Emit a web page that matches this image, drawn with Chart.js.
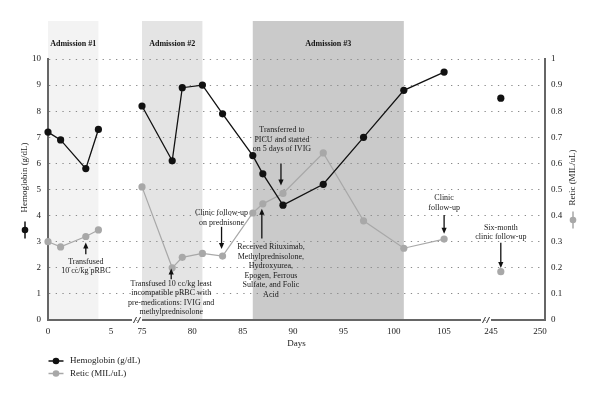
<!DOCTYPE html>
<html>
<head>
<meta charset="utf-8">
<script src="https://cdn.jsdelivr.net/npm/chart.js@4.4.1/dist/chart.umd.min.js"></script>
<style>
  body { margin: 0; background: #fff; }
  #wrap { width: 600px; height: 399px; }
</style>
</head>
<body>
<div id="wrap"><canvas id="grafico"></canvas></div>
<script>
var hbDays = [0, 1, 3, 4, 75, 78, 79, 81, 83, 86, 87, 89, 93, 97, 101, 105, 246];
var hbValues = [7.2, 6.9, 5.8, 7.3, 8.2, 6.1, 8.9, 9.0, 7.9, 6.3, 5.6, 4.4, 5.2, 7.0, 8.8, 9.5, 8.5];
var reticDays = [0, 1, 3, 4, 75, 78, 79, 81, 83, 86, 87, 89, 93, 97, 101, 105, 246];
var reticValues = [0.30, 0.28, 0.32, 0.345, 0.51, 0.20, 0.24, 0.255, 0.245, 0.41, 0.445, 0.485, 0.64, 0.38, 0.275, 0.31, 0.185];
var tickDays = [0, 5, 75, 80, 85, 90, 95, 100, 105, 245, 250];
var admissionNames = ['Admission #1', 'Admission #2', 'Admission #3'];
var admissionStart = [0, 75, 86];
var admissionEnd = [4, 81, 101];

var SERIF = "'Liberation Serif', 'DejaVu Serif', serif";
var TINTA = '#1a1a1a';

// broken x axis: three pieces of the day line laid side by side
var piezas = [
    {desde: 0, inicio: 0, escala: 12.6},
    {desde: 75, inicio: 94, escala: 10.07},
    {desde: 245, inicio: 443, escala: 9.8}
];
function pieza(d) {
    if (d < 40) return 0;
    if (d < 200) return 1;
    return 2;
}
function pos(d) {
    var p = piezas[pieza(d)];
    return p.inicio + (d - p.desde) * p.escala;
}

function puntos(dias, valores) {
    var out = [];
    for (var i = 0; i < dias.length; i++) {
        out.push({x: pos(dias[i]), y: valores[i]});
        if (i < dias.length - 1 && pieza(dias[i]) != pieza(dias[i + 1])) {
            out.push({x: (pos(dias[i]) + pos(dias[i + 1])) / 2, y: null});
        }
    }
    return out;
}

// notes: x in days, y in hemoglobin units
var notas = [
    {texto: ['Transfused', '10 cc/kg pRBC'], dia: 3, y: 2.23, flechaDia: 3, de: 2.52, a: 2.97},
    {texto: ['Transfused 10 cc/kg least', 'incompatible pRBC with', 'pre-medications: IVIG and', 'methylprednisolone'], dia: 77.9, y: 1.40, flechaDia: 77.9, de: 1.56, a: 1.97},
    {texto: ['Clinic follow-up', 'on prednisone'], dia: 82.9, y: 4.09, flechaDia: 82.9, de: 3.57, a: 2.72},
    {texto: ['Received Rituximab,', 'Methylprednisolone,', 'Hydroxyurea,', 'Epogen, Ferrous', 'Sulfate, and Folic', 'Acid'], dia: 87.8, y: 2.80, flechaDia: 86.9, de: 3.12, a: 4.26},
    {texto: ['Transferred to', 'PICU and started', 'on 5 days of IVIG'], dia: 88.9, y: 7.28, flechaDia: 88.8, de: 6.0, a: 5.15},
    {texto: ['Clinic', 'follow-up'], dia: 105, y: 4.66, flechaDia: 105, de: 4.02, a: 3.30},
    {texto: ['Six-month', 'clinic follow-up'], dia: 246, y: 3.53, flechaDia: 246, de: 2.96, a: 1.99}
];

function flecha(ctx, x, y1, y2) {
    var dir = y2 > y1 ? 1 : -1;
    ctx.strokeStyle = '#111';
    ctx.fillStyle = '#111';
    ctx.lineWidth = 1.3;
    ctx.beginPath();
    ctx.moveTo(x, y1);
    ctx.lineTo(x, y2 - dir * 4);
    ctx.stroke();
    ctx.beginPath();
    ctx.moveTo(x, y2);
    ctx.lineTo(x - 2.6, y2 - dir * 6);
    ctx.lineTo(x + 2.6, y2 - dir * 6);
    ctx.closePath();
    ctx.fill();
}

function marcador(ctx, x, y, color, vertical) {
    ctx.strokeStyle = color;
    ctx.fillStyle = color;
    ctx.lineWidth = 1.5;
    ctx.beginPath();
    if (vertical) {
        ctx.moveTo(x, y - 8.5);
        ctx.lineTo(x, y + 8.5);
    } else {
        ctx.moveTo(x - 7.5, y);
        ctx.lineTo(x + 7.5, y);
    }
    ctx.stroke();
    ctx.beginPath();
    ctx.arc(x, y, 3.3, 0, Math.PI * 2);
    ctx.fill();
}

var extras = {
    id: 'extras',
    beforeDraw: function(chart) {
        var ctx = chart.ctx;
        var xs = chart.scales.x;
        var area = chart.chartArea;
        var grises = ['#f3f3f3', '#e4e4e4', '#cacaca'];
        ctx.save();
        ctx.fillStyle = '#fff';
        ctx.fillRect(0, 0, chart.width, chart.height);
        for (var i = 0; i < admissionNames.length; i++) {
            var x1 = xs.getPixelForValue(pos(admissionStart[i]));
            var x2 = xs.getPixelForValue(pos(admissionEnd[i]));
            ctx.fillStyle = grises[i];
            ctx.fillRect(x1, 21, x2 - x1, area.bottom - 21);
            ctx.fillStyle = '#111';
            ctx.font = 'bold 8px ' + SERIF;
            ctx.textAlign = 'center';
            ctx.textBaseline = 'middle';
            ctx.fillText(admissionNames[i], (x1 + x2) / 2, 43.5);
        }
        ctx.restore();
    },
    afterDraw: function(chart) {
        var ctx = chart.ctx;
        var xs = chart.scales.x;
        var ys = chart.scales.y;
        var area = chart.chartArea;
        ctx.save();

        // x axis line with break marks
        var yb = area.bottom;
        var cortes = [xs.getPixelForValue(pos(75)), xs.getPixelForValue(pos(245))];
        ctx.strokeStyle = '#666';
        ctx.lineWidth = 2;
        ctx.beginPath();
        ctx.moveTo(area.left - 1, yb);
        ctx.lineTo(cortes[0] - 10, yb);
        ctx.moveTo(cortes[0], yb);
        ctx.lineTo(cortes[1] - 10, yb);
        ctx.moveTo(cortes[1], yb);
        ctx.lineTo(area.right + 1, yb);
        ctx.stroke();
        ctx.lineWidth = 1;
        ctx.strokeStyle = '#333';
        for (var c = 0; c < cortes.length; c++) {
            [cortes[c] - 7, cortes[c] - 3].forEach(function(sx) {
                ctx.beginPath();
                ctx.moveTo(sx - 1.5, yb + 3);
                ctx.lineTo(sx + 1.5, yb - 3);
                ctx.stroke();
            });
        }

        // notes
        ctx.font = '8px ' + SERIF;
        ctx.textAlign = 'center';
        ctx.textBaseline = 'middle';
        notas.forEach(function(n) {
            var cx = xs.getPixelForValue(pos(n.dia));
            var ty = ys.getPixelForValue(n.y);
            ctx.fillStyle = TINTA;
            for (var k = 0; k < n.texto.length; k++) {
                ctx.fillText(n.texto[k], cx, ty + k * 9.5);
            }
            flecha(ctx, xs.getPixelForValue(pos(n.flechaDia)), ys.getPixelForValue(n.de), ys.getPixelForValue(n.a));
        });

        // axis titles with their markers
        var cy = 177.5;
        ctx.font = '9px ' + SERIF;
        ctx.fillStyle = TINTA;
        ctx.save();
        ctx.translate(25, cy);
        ctx.rotate(-Math.PI / 2);
        ctx.fillText('Hemoglobin (g/dL)', 0, 0);
        ctx.restore();
        ctx.save();
        ctx.translate(573, cy);
        ctx.rotate(-Math.PI / 2);
        ctx.fillText('Retic (MIL/uL)', 0, 0);
        ctx.restore();
        marcador(ctx, 25, 230, '#111', true);
        marcador(ctx, 573, 220, '#a8a8a8', true);

        // legend
        var ds = chart.data.datasets;
        ctx.textAlign = 'left';
        for (var j = 0; j < ds.length; j++) {
            var ly = 361 + j * 12.5;
            marcador(ctx, 56, ly, ds[j].borderColor, false);
            ctx.fillStyle = TINTA;
            ctx.font = '9px ' + SERIF;
            ctx.fillText(ds[j].label, 70, ly);
        }
        ctx.restore();
    }
};

var fuenteTicks = {family: SERIF, size: 9};

var grafico = new Chart(document.getElementById('grafico'), {
    type: 'line',
    data: {
        datasets: [
            {
                label: 'Hemoglobin (g/dL)',
                data: puntos(hbDays, hbValues),
                yAxisID: 'y',
                borderColor: '#111',
                backgroundColor: '#111',
                borderWidth: 1.3,
                pointRadius: 3.6,
                pointBorderWidth: 0,
                spanGaps: false,
                clip: false
            },
            {
                label: 'Retic (MIL/uL)',
                data: puntos(reticDays, reticValues),
                yAxisID: 'y1',
                borderColor: '#a8a8a8',
                backgroundColor: '#a8a8a8',
                borderWidth: 1.2,
                pointRadius: 3.6,
                pointBorderWidth: 0,
                spanGaps: false,
                clip: false
            }
        ]
    },
    options: {
        responsive: true,
        maintainAspectRatio: false,
        animation: false,
        layout: {padding: {top: 59, bottom: 50, left: 0, right: 0}},
        plugins: {
            legend: {display: false},
            tooltip: {enabled: false}
        },
        scales: {
            x: {
                type: 'linear',
                min: 0,
                max: 497,
                afterFit: function(s) { s.height = 29; },
                afterBuildTicks: function(s) {
                    s.ticks = tickDays.map(function(d) { return {value: pos(d)}; });
                },
                ticks: {
                    font: fuenteTicks,
                    color: TINTA,
                    padding: 6,
                    maxRotation: 0,
                    autoSkip: false,
                    callback: function(v, i) { return tickDays[i]; }
                },
                grid: {display: false, drawTicks: false},
                border: {display: false},
                title: {display: true, text: 'Days', font: {family: SERIF, size: 9}, color: TINTA, padding: 0}
            },
            y: {
                position: 'left',
                min: 0,
                max: 10,
                afterFit: function(s) { s.width = 48; },
                ticks: {stepSize: 1, font: fuenteTicks, color: TINTA, padding: 7},
                grid: {color: '#8a8a8a', lineWidth: 1, drawTicks: false},
                border: {display: true, color: '#666', width: 2, dash: [1.3, 5.4]}
            },
            y1: {
                position: 'right',
                min: 0,
                max: 1,
                afterFit: function(s) { s.width = 55; },
                ticks: {stepSize: 0.1, font: fuenteTicks, color: TINTA, padding: 6,
                    callback: function(v) { return Math.round(v * 10) / 10; }},
                grid: {display: false, drawTicks: false},
                border: {display: true, color: '#666', width: 2}
            }
        }
    },
    plugins: [extras]
});
</script>
</body>
</html>
